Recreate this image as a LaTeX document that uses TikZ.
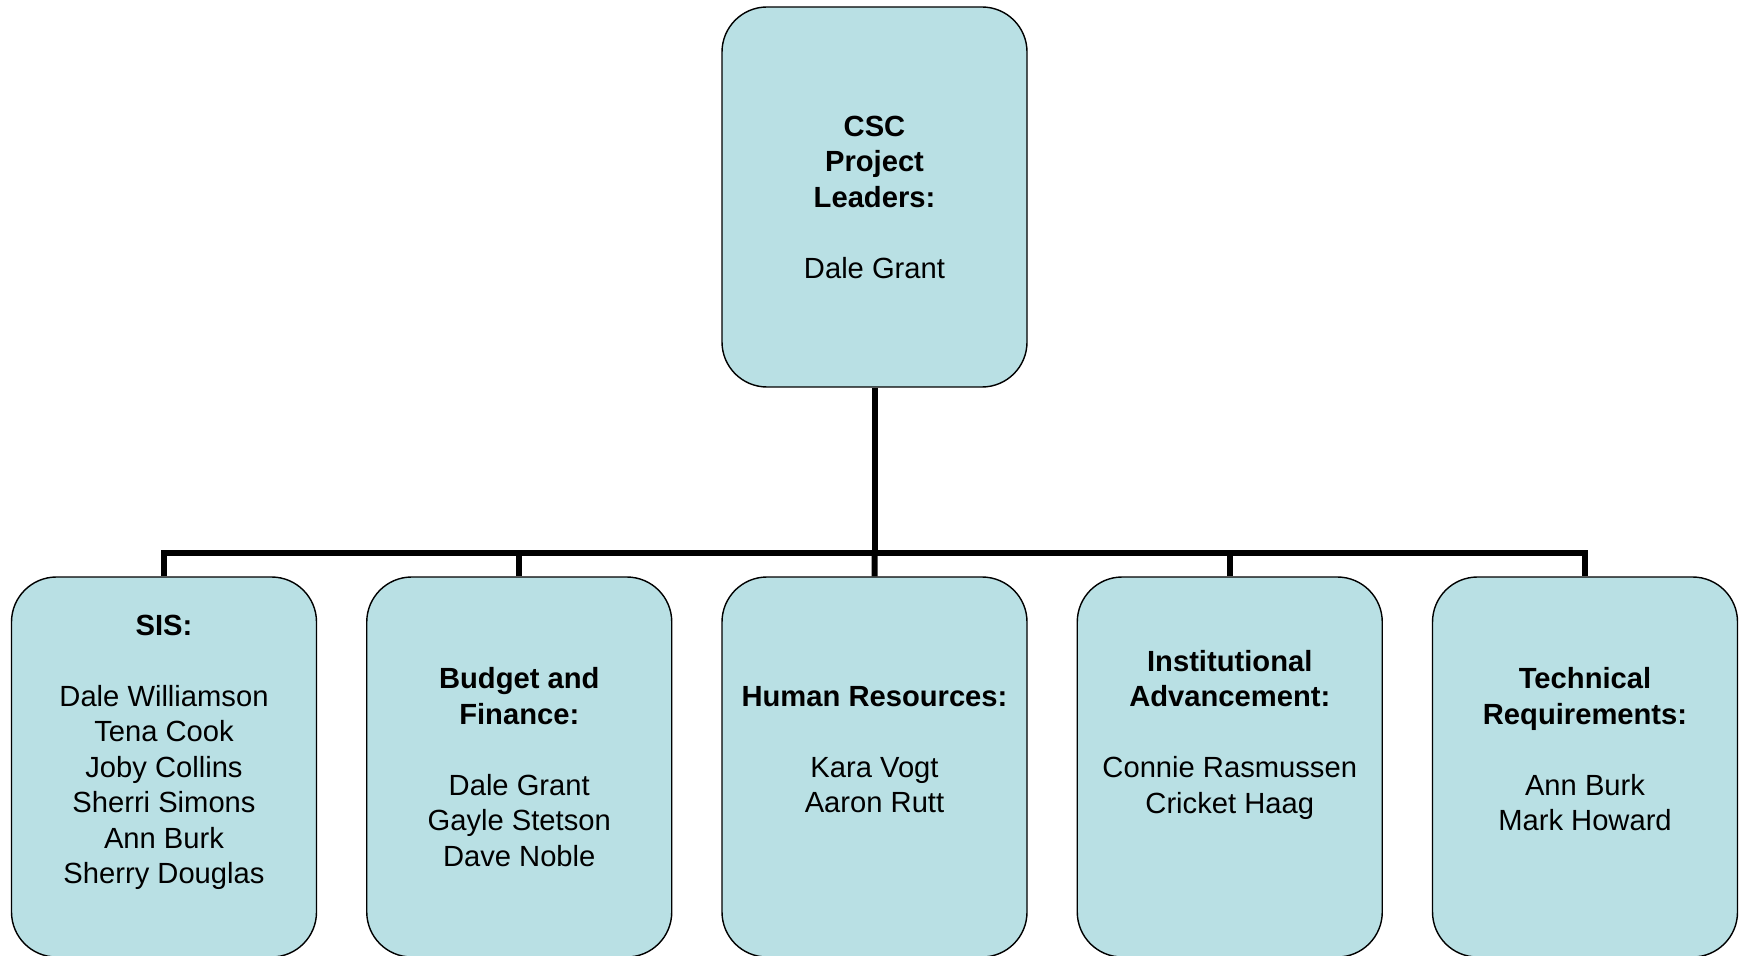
\documentclass[tikz,border=0pt]{standalone}
\usepackage{fontspec}
\setmainfont{Liberation Sans}
\usepackage{xcolor}
\definecolor{boxfill}{RGB}{185,224,228}

\begin{document}
\begin{tikzpicture}[node distance=7.105cm,
  box/.style={draw, line width=0.8pt, fill=boxfill, rounded corners=0.9cm,
    minimum width=6.1cm, minimum height=7.6cm, align=center,
    font=\fontsize{16.6}{20.2}\selectfont},
  bar/.style={line width=3.4pt, line join=miter}]
 \useasboundingbox (0,0) rectangle (34.82,19.1);
 %Nodes
	\node[box] (lead) at (17.49,15.16) {\textbf{CSC}\\\textbf{Project}\\\textbf{Leaders:}\\[20.2pt]Dale Grant};
	\node[box] (sis) at (3.28,3.76) {\textbf{SIS:}\\[20.2pt]Dale Williamson\\Tena Cook\\Joby Collins\\Sherri Simons\\Ann Burk\\Sherry Douglas\\\mbox{}};
	\node[box, right of=sis] (budget) {\textbf{Budget and}\\\textbf{Finance:}\\[20.2pt]Dale Grant\\Gayle Stetson\\Dave Noble};
	\node[box, right of=budget] (hr) {\textbf{Human Resources:}\\[20.2pt]Kara Vogt\\Aaron Rutt\\\mbox{}};
	\node[box, right of=hr] (inst) {\textbf{Institutional}\\\textbf{Advancement:}\\[20.2pt]Connie Rasmussen\\Cricket Haag\\\mbox{}\\\mbox{}};
	\node[box, right of=inst] (tech) {\textbf{Technical}\\\textbf{Requirements:}\\[20.2pt]Ann Burk\\Mark Howard\\\mbox{}};
	\coordinate (bus) at (17.49,8.04);
	% Lines
	\draw[bar] (lead.south) -- (bus);
	\draw[bar] (sis.north) -- (sis.north |- bus) -- (tech.north |- bus) -- (tech.north);
	\draw[bar] (budget.north |- bus) -- (budget.north);
	\draw[bar] (bus) -- (hr.north);
	\draw[bar] (inst.north |- bus) -- (inst.north);
\end{tikzpicture}
\end{document}
